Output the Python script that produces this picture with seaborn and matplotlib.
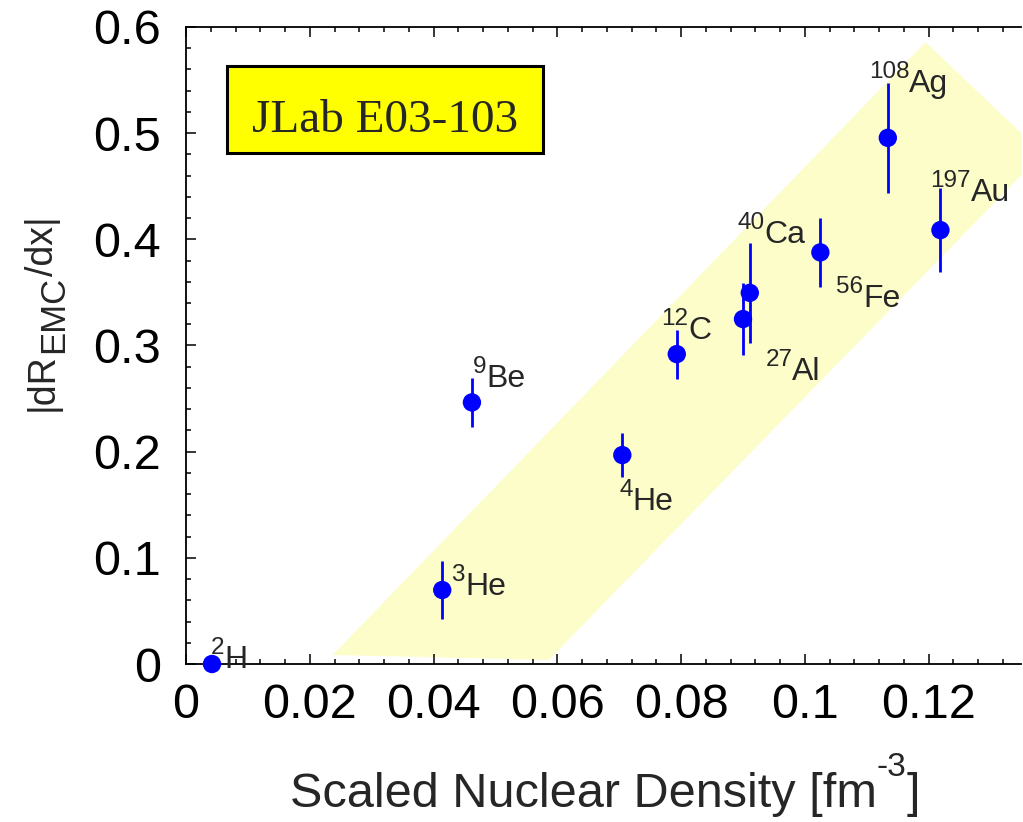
import numpy as np
import pandas as pd
import matplotlib
matplotlib.use("Agg")
import matplotlib.pyplot as plt
import seaborn as sns
from matplotlib.patches import Polygon, Rectangle
from matplotlib.ticker import MultipleLocator
from matplotlib.transforms import offset_copy, IdentityTransform

# ---- data ----
nuclei = ["2H", "3He", "9Be", "4He", "12C", "27Al", "40Ca", "56Fe", "197Au", "108Ag"]
mass_num = ["2", "3", "9", "4", "12", "27", "40", "56", "197", "108"]
element = ["H", "He", "Be", "He", "C", "Al", "Ca", "Fe", "Au", "Ag"]
density = [0.0042, 0.0414, 0.0462, 0.0705, 0.0793, 0.0900, 0.0911, 0.1025, 0.1219, 0.1134]
slope = [0.0, 0.0697, 0.2464, 0.1968, 0.2919, 0.3249, 0.3496, 0.3877, 0.4087, 0.4956]
slope_err = [0.0, 0.0271, 0.0231, 0.0204, 0.0231, 0.0341, 0.0474, 0.0325, 0.0397, 0.0520]
label_x = [0.0040, 0.0429, 0.0464, 0.0700, 0.0768, 0.0936, 0.0891, 0.1051, 0.1203, 0.1103]
label_y = [-0.0038, 0.0650, 0.2608, 0.1450, 0.3060, 0.2674, 0.3964, 0.3362, 0.4360, 0.5386]
band_x = [0.0237, 0.1195, 0.1384, 0.0586]
band_y = [0.0085, 0.5857, 0.4810, 0.0038]
xticks = [0, 0.02, 0.04, 0.06, 0.08, 0.1, 0.12]
xticklabels = ["0", "0.02", "0.04", "0.06", "0.08", "0.1", "0.12"]
yticks = [0, 0.1, 0.2, 0.3, 0.4, 0.5, 0.6]
yticklabels = ["0", "0.1", "0.2", "0.3", "0.4", "0.5", "0.6"]

df = pd.DataFrame({"density": density, "slope": slope, "err": slope_err})

sns.set_style("ticks")
plt.rcParams["font.family"] = ["Liberation Sans", "DejaVu Sans"]

fig = plt.figure(figsize=(10.23, 8.22), dpi=100)
ax = fig.add_axes([186 / 1023, 158 / 822, 835.5 / 1023, 637 / 822])
renderer = fig.canvas.get_renderer()


def rich_text(x, y, pieces, transform, rotation=0, zorder=4):
    """Place consecutive text pieces (text, fontsize, rise_px) on one baseline."""
    adv = 0.0
    for s, size, rise in pieces:
        if rotation == 0:
            dx, dy = adv, rise
        else:
            dx, dy = -rise, adv
        t = fig.text(x, y, s, fontsize=size, rotation=rotation,
                     rotation_mode="anchor", ha="left", va="baseline",
                     transform=offset_copy(transform, fig=fig, x=dx, y=dy, units="dots"),
                     zorder=zorder)
        ext = t.get_window_extent(renderer)
        adv += ext.width if rotation == 0 else ext.height


ax.add_patch(Polygon(np.column_stack([band_x, band_y]), closed=True,
                     facecolor="#fdfdca", edgecolor="none", zorder=0))

ax.errorbar(df["density"], df["slope"], yerr=df["err"], fmt="none",
            ecolor="#0000ff", elinewidth=2.0, capsize=0, zorder=2)
sns.scatterplot(data=df, x="density", y="slope", ax=ax, color="#0000ff",
                s=175, edgecolor="none", zorder=3, legend=False)
for coll in ax.collections:
    coll.set_clip_on(False)

ax.set_xlim(0, 0.135)
ax.set_ylim(0, 0.6)
ax.set_xticks(xticks)
ax.set_xticklabels(xticklabels)
ax.set_yticks(yticks)
ax.set_yticklabels(yticklabels)
ax.xaxis.set_minor_locator(MultipleLocator(0.004))
ax.yaxis.set_minor_locator(MultipleLocator(0.02))
ax.tick_params(which="both", direction="in", top=True, right=False,
               width=1.1, colors="black")
ax.tick_params(which="major", length=7, labelsize=35)
ax.tick_params(which="minor", length=3.5)
ax.tick_params(axis="y", which="major", pad=18)
ax.tick_params(axis="x", which="major", pad=14)
for side in ["left", "bottom", "top"]:
    ax.spines[side].set_linewidth(1.3)
    ax.spines[side].set_color("black")
    ax.spines[side].set_zorder(1)
ax.spines["right"].set_visible(False)
ax.set_xlabel("")
ax.set_ylabel("")

# point labels: superscript mass number + element symbol
for m, el, lx, ly in zip(mass_num, element, label_x, label_y):
    rich_text(lx, ly, [(m, 17.5, 14), (el, 23, 0)], ax.transData)

# axis titles
rich_text(290, 15, [("Scaled Nuclear Density [fm", 35, 0), ("-3", 24, 31), ("]", 35, 0)],
          IdentityTransform())
rich_text(53, 411, [("|dR", 27, 0), ("EMC", 25, -10), ("/dx|", 27, 0)],
          IdentityTransform(), rotation=90)

ax.add_patch(Rectangle((0.0488, 0.8027), 0.3785, 0.1361, transform=ax.transAxes,
                       facecolor="#ffff00", edgecolor="black", linewidth=2.2, zorder=5))
ax.text(0.2378, 0.8356, "JLab E03-103", transform=ax.transAxes, fontsize=34,
        family="Liberation Serif", ha="center", va="baseline", zorder=6)

fig.savefig("out.png", dpi=100)
